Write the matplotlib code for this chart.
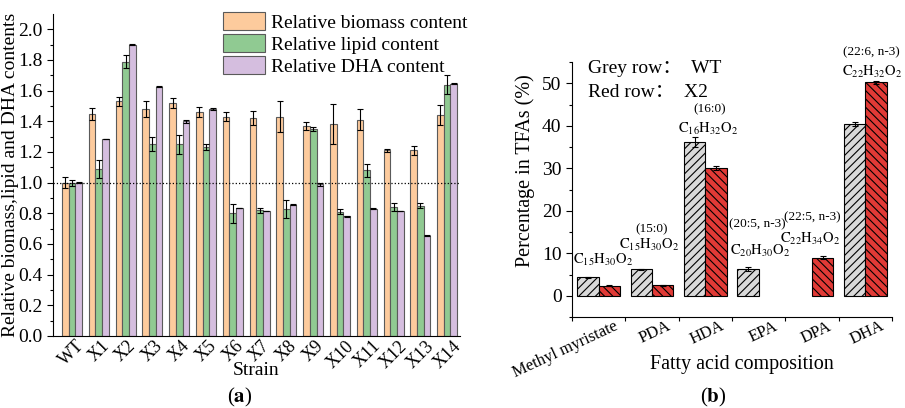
import numpy as np
import matplotlib
matplotlib.use('Agg')
import matplotlib.pyplot as plt
import matplotlib.transforms as mtransforms

plt.rcParams['font.family'] = ['Liberation Serif', 'Noto Sans CJK SC']
plt.rcParams['mathtext.fontset'] = 'stix'
plt.rcParams['hatch.linewidth'] = 0.8

# ---- panel (a) data ----
strains = ['WT', 'X1', 'X2', 'X3', 'X4', 'X5', 'X6', 'X7', 'X8', 'X9', 'X10', 'X11', 'X12', 'X13', 'X14']
biomass = [1.00, 1.45, 1.53, 1.48, 1.52, 1.46, 1.43, 1.42, 1.43, 1.37, 1.38, 1.41, 1.21, 1.21, 1.44]
biomass_err = [0.035, 0.04, 0.03, 0.05, 0.03, 0.033, 0.03, 0.045, 0.10, 0.028, 0.13, 0.068, 0.01, 0.03, 0.065]
lipid = [1.00, 1.09, 1.79, 1.25, 1.25, 1.23, 0.80, 0.82, 0.83, 1.35, 0.81, 1.08, 0.84, 0.85, 1.64]
lipid_err = [0.02, 0.06, 0.04, 0.045, 0.06, 0.02, 0.06, 0.015, 0.06, 0.01, 0.017, 0.04, 0.027, 0.017, 0.06]
dha = [1.00, 1.285, 1.90, 1.625, 1.40, 1.48, 0.835, 0.815, 0.855, 0.99, 0.78, 0.83, 0.815, 0.655, 1.645]
dha_err = [0.003, 0.003, 0.003, 0.003, 0.01, 0.008, 0.003, 0.003, 0.003, 0.01, 0.003, 0.003, 0.003, 0.003, 0.003]

# ---- panel (b) data ----
acids = ['Methyl myristate', 'PDA', 'HDA', 'EPA', 'DPA', 'DHA']
wt_pct = [4.3, 6.2, 36.2, 6.3, 0.0, 40.4]
wt_err = [0.1, 0.1, 1.2, 0.5, 0.0, 0.4]
x2_pct = [2.4, 2.5, 30.1, 0.0, 9.0, 50.2]
x2_err = [0.05, 0.1, 0.5, 0.0, 0.3, 0.4]

W, H = 905, 408
fig = plt.figure(figsize=(W / 100, H / 100), dpi=100)


def px_axes(left, top, right, bottom):
    return fig.add_axes([left / W, 1 - bottom / H, (right - left) / W, (bottom - top) / H])


# ================= (a) =================
ax = px_axes(53, 14, 460, 336)
x = np.arange(len(strains))
bw = 0.25
ek = dict(ecolor='black', elinewidth=0.8, capsize=2.5, capthick=0.8)
ax.bar(x - bw, biomass, bw, yerr=biomass_err, color='#FDCB9D', edgecolor='#5a5a5a', lw=0.8,
       label='Relative biomass content', error_kw=ek)
ax.bar(x, lipid, bw, yerr=lipid_err, color='#90CA92', edgecolor='#5a5a5a', lw=0.8,
       label='Relative lipid content', error_kw=ek)
ax.bar(x + bw, dha, bw, yerr=dha_err, color='#D5BEDF', edgecolor='#5a5a5a', lw=0.8,
       label='Relative DHA content', error_kw=ek)
ax.axhline(1.0, color='black', ls=':', lw=0.9)
ax.set_xlim(-0.71, 14.48)
ax.set_ylim(0, 2.1)
ax.set_yticks(np.arange(0, 2.01, 0.2))
ax.set_yticks(np.arange(0.1, 2.1, 0.2), minor=True)
ax.set_yticklabels([f'{v:.1f}' for v in np.arange(0, 2.01, 0.2)], fontsize=14)
ax.set_xticks(x)
ax.set_xticklabels(strains, rotation=45, fontsize=13, ha='center', va='top')
ax.tick_params(axis='x', length=0, pad=1)
ax.tick_params(axis='y', which='major', length=4, width=0.8)
ax.tick_params(axis='y', which='minor', length=2, width=0.8)
for s in ['top', 'right']:
    ax.spines[s].set_visible(False)
ax.set_ylabel('Relative biomass,lipid and DHA contents', fontsize=14)
ax.yaxis.set_label_coords(-0.083, 0.5)
ax.set_xlabel('Strain', fontsize=14)
ax.xaxis.set_label_coords(0.5, -0.08)
ax.legend(loc='upper left', bbox_to_anchor=(223 / W, 1 - 12 / H), bbox_transform=fig.transFigure,
          frameon=False, fontsize=14, handlelength=2.15, handleheight=1.05, labelspacing=0.12,
          handletextpad=0.3, borderpad=0, borderaxespad=0)
fig.text(240 / W, 1 - 397 / H, r'($\mathbf{a}$)', fontsize=15, ha='center', va='center')

# ================= (b) =================
bx = px_axes(572, 62, 892, 317)
xb = np.arange(len(acids))
bw2 = 0.4
ek2 = dict(ecolor='black', elinewidth=0.8, capsize=2.5, capthick=0.8)
wt_mask = np.array(wt_pct) > 0
x2_mask = np.array(x2_pct) > 0
bx.bar(xb[wt_mask] - bw2 / 2, np.array(wt_pct)[wt_mask], bw2, yerr=np.array(wt_err)[wt_mask],
       color='#D9D9D9', edgecolor='black', lw=0.8, hatch='////', error_kw=ek2)
bx.bar(xb[x2_mask] + bw2 / 2, np.array(x2_pct)[x2_mask], bw2, yerr=np.array(x2_err)[x2_mask],
       color='#E13A36', edgecolor='black', lw=0.8, hatch='\\\\\\\\', error_kw=ek2)
bx.set_xlim(-0.5, 5.5)
bx.set_ylim(-5, 55)
bx.set_yticks(np.arange(0, 51, 10))
bx.set_yticks(np.arange(-5, 56, 10), minor=True)
bx.tick_params(axis='y', which='major', length=4, width=0.8, labelsize=14)
bx.tick_params(axis='y', which='minor', length=2, width=0.8)
bx.set_xticks(np.arange(-0.5, 5.6, 1), minor=True)
bx.tick_params(axis='x', which='major', length=0, pad=1)
bx.tick_params(axis='x', which='minor', length=3, width=0.8)
bx.set_xticks(xb)
bx.set_xticklabels(acids, rotation=25, ha='right', rotation_mode='anchor', fontsize=12)
for s in ['top', 'right']:
    bx.spines[s].set_visible(False)
bx.set_ylabel('Percentage in TFAs (%)', fontsize=14.5)
bx.yaxis.set_label_coords(-0.116, 0.573)
bx.set_xlabel('Fatty acid composition', fontsize=14.5)
bx.xaxis.set_label_coords(0.53, -0.15)

bx.text(0.05, 0.976, 'Grey row：  WT', transform=bx.transAxes, fontsize=14, va='center')
bx.text(0.05, 0.882, 'Red row：  X2', transform=bx.transAxes, fontsize=14, va='center')

# formula / notation labels (x, y in data units)
formulas = [r'$\mathrm{C_{15}H_{30}O_{2}}$', r'$\mathrm{C_{15}H_{30}O_{2}}$', r'$\mathrm{C_{16}H_{32}O_{2}}$',
            r'$\mathrm{C_{20}H_{30}O_{2}}$', r'$\mathrm{C_{22}H_{34}O_{2}}$', r'$\mathrm{C_{22}H_{32}O_{2}}$']
formula_xy = [(0.09, 8.5), (0.94, 12.0), (2.06, 39.3), (3.03, 10.6), (3.97, 13.4), (5.13, 52.7)]
notes = ['', '(15:0)', '(16:0)', '(20:5, n-3)', '(22:5, n-3)', '(22:6, n-3)']
note_xy = [(0, 0), (0.99, 15.6), (2.08, 43.8), (2.98, 16.8), (4.0, 18.4), (5.12, 57.2)]
for f, (fx, fy) in zip(formulas, formula_xy):
    bx.text(fx, fy, f, fontsize=10.5, ha='center', va='center', clip_on=False)
for n, (nx, ny) in zip(notes, note_xy):
    if n:
        bx.text(nx, ny, n, fontsize=9.5, ha='center', va='center', clip_on=False)

fig.text(713 / W, 1 - 397 / H, r'($\mathbf{b}$)', fontsize=15, ha='center', va='center')

# nudge slanted category labels to the right so they end under the red bar
shift = mtransforms.ScaledTranslation(0.15, 0, fig.dpi_scale_trans)
for tick in bx.xaxis.get_major_ticks():
    tick.label1.set_transform(tick.label1.get_transform() + shift)

fig.savefig('out.png', dpi=100)
